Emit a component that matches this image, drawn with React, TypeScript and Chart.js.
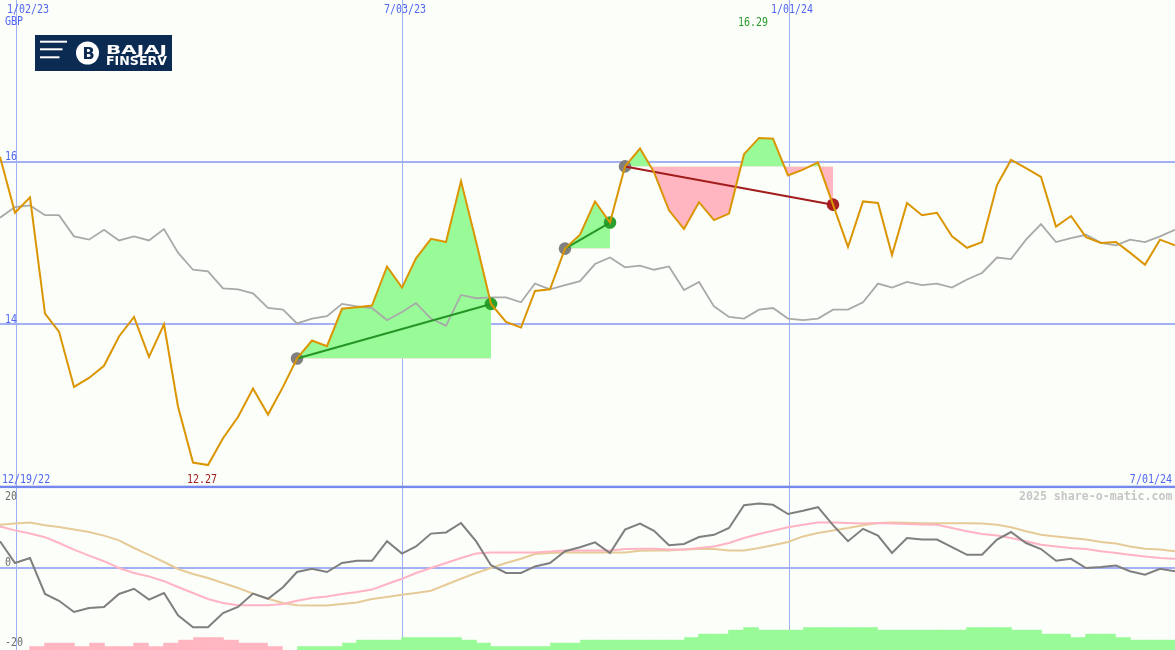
import React, { useEffect, useRef } from 'react';
import { Chart, registerables } from 'chart.js';

Chart.register(...registerables);

// ---- data (weekly, index based) ----
const closePrices = [
  16.06, 15.37, 15.56, 14.13, 13.91, 13.23, 13.34, 13.49, 13.85, 14.09,
  13.6, 14.0, 12.99, 12.3, 12.27, 12.6, 12.86, 13.21, 12.89, 13.23,
  13.58, 13.8, 13.73, 14.19, 14.21, 14.23, 14.71, 14.45, 14.81, 15.05,
  15.01, 15.76, 15.02, 14.25, 14.03, 13.96, 14.41, 14.43, 14.93, 15.1,
  15.51, 15.25, 15.94, 16.16, 15.87, 15.4, 15.17, 15.5, 15.28, 15.36,
  16.09, 16.29, 16.28, 15.83, 15.9, 15.99, 15.47, 14.95, 15.51, 15.49,
  14.85, 15.49, 15.34, 15.37, 15.08, 14.94, 15.01, 15.71, 16.02, 15.92,
  15.81, 15.2, 15.33, 15.07, 15.0, 15.01, 14.88, 14.73, 15.04, 14.97,
];

const priceAverage = [
  15.31, 15.44, 15.46, 15.34, 15.34, 15.08, 15.04, 15.16, 15.03, 15.08,
  15.03, 15.17, 14.88, 14.67, 14.65, 14.44, 14.43, 14.38, 14.2, 14.18,
  14.01, 14.07, 14.1, 14.25, 14.22, 14.2, 14.05, 14.15, 14.26, 14.07,
  13.98, 14.36, 14.32, 14.33, 14.33, 14.27, 14.5, 14.43, 14.48, 14.53,
  14.74, 14.82, 14.7, 14.72, 14.67, 14.71, 14.42, 14.52, 14.22, 14.09,
  14.07, 14.18, 14.2, 14.07, 14.05, 14.07, 14.18, 14.18, 14.27, 14.5,
  14.45, 14.52, 14.48, 14.5, 14.45, 14.55, 14.63, 14.82, 14.8, 15.04,
  15.23, 15.01, 15.06, 15.1, 15.0, 14.97, 15.04, 15.01, 15.08, 15.16,
];

const oscillator = [
  6.7, 1.25, 2.5, -6.5, -8.2, -11, -10, -9.75, -6.5, -5.2,
  -7.9, -6.25, -11.8, -14.8, -14.8, -11.25, -9.75, -6.4, -7.7, -4.8,
  -1, -0.2, -1, 1.25, 1.8, 1.8, 6.7, 3.6, 5.4, 8.6,
  8.9, 11.25, 6.7, 0.7, -1.25, -1.25, 0.4, 1.25, 4.2, 5.2,
  6.4, 3.75, 9.6, 11.1, 9.3, 5.7, 6, 7.75, 8.3, 10,
  15.7, 16.1, 15.8, 13.5, 14.3, 15.2, 10.7, 6.7, 9.8, 8.1,
  3.75, 7.5, 7.1, 7.1, 5.2, 3.3, 3.3, 7.1, 9, 6.25,
  4.75, 1.8, 2.3, 0, 0.25, 0.6, -0.8, -1.7, -0.2, -0.8,
];

const oscSignal = [
  10.4, 9.4, 8.6, 7.7, 6.25, 4.6, 3.1, 1.7, 0, -1.25,
  -2.1, -3.3, -4.75, -6.25, -7.75, -8.75, -9.3, -9.3, -9.3, -9,
  -8.2, -7.5, -7.1, -6.5, -6, -5.4, -4, -2.7, -1.25, 0,
  1.25, 2.5, 3.6, 3.9, 3.9, 3.9, 3.9, 4.1, 4.4, 4.4,
  4.4, 4.4, 4.75, 4.8, 4.8, 4.6, 4.6, 5, 5.4, 6.25,
  7.5, 8.5, 9.3, 10.2, 10.8, 11.4, 11.4, 11.25, 11.1, 11.25,
  11.1, 11, 10.9, 10.8, 10, 9.2, 8.5, 8.1, 7.5, 6.7,
  5.8, 5.4, 5, 4.75, 4.2, 3.75, 3.3, 2.9, 2.5, 2.3,
];

const oscSlow = [
  10.8, 11.1, 11.4, 10.7, 10.25, 9.6, 9, 8.1, 6.9, 5,
  3.3, 1.5, -0.25, -1.5, -2.5, -3.75, -5, -6.4, -7.7, -8.75,
  -9.3, -9.4, -9.4, -9, -8.6, -7.75, -7.25, -6.7, -6.25, -5.7,
  -4.2, -2.7, -1.25, 0, 1.25, 2.3, 3.5, 3.75, 3.9, 3.9,
  3.9, 3.9, 3.9, 4.3, 4.4, 4.4, 4.6, 4.75, 4.75, 4.4,
  4.4, 5, 5.7, 6.5, 7.9, 8.75, 9.4, 10, 10.7, 11.25,
  11.4, 11.3, 11.2, 11.2, 11.2, 11.2, 11.1, 10.8, 10.2, 9.2,
  8.3, 7.9, 7.5, 7.1, 6.5, 6.1, 5.4, 4.8, 4.6, 4.2,
];

// signed strength histogram (negative = pink, positive = green)
const strength = [
  0, 0, -0.75, -1.6, -1.6, -0.75, -1.6, -0.75, -0.75, -1.6,
  -0.75, -1.6, -2.35, -3, -3, -2.35, -1.6, -1.6, -0.75, 0,
  0.75, 0.75, 0.75, 1.6, 2.35, 2.35, 2.35, 3, 3, 3,
  3, 2.35, 1.6, 0.75, 0.75, 0.75, 0.75, 1.6, 1.6, 2.35,
  2.35, 2.35, 2.35, 2.35, 2.35, 2.35, 3, 3.85, 3.85, 4.85,
  5.5, 4.85, 4.85, 4.85, 5.5, 5.5, 5.5, 5.5, 5.5, 4.85,
  4.85, 4.85, 4.85, 4.85, 4.85, 5.5, 5.5, 5.5, 4.85, 4.85,
  3.85, 3.85, 3, 3.85, 3.85, 3, 2.35, 2.35, 2.35, 0,
];

const tradeEntryIdx = [20, 38, 42];
const tradeExitIdx = [33, 41, 56];

const dateTickPos = [1.07, 27, 53.05];
const dateTickLabels = ['1/02/23', '7/03/23', '1/01/24'];
const startLabel = '12/19/22';
const endLabel = '7/01/24';
const priceTicks = [14, 16];
const oscTicks = [20, 0, -20];
const currency = 'GBP';
const watermark = '2025 share-o-matic.com';

// ---- styles ----
const BG = '#fcfefa';
const GRID = '#a3b1f4';
const LABEL_BLUE = '#5066f0';
const MONO = '"DejaVu Sans Mono", monospace';
const GREEN_FILL = '#98fb98';
const PINK_FILL = '#ffb6c1';

const PRICE_MIN = 12;
const PRICE_MAX = 17.985;
const OSC_MIN = -20.5;
const OSC_MAX = 20.25;

function txt(ctx: CanvasRenderingContext2D, s: string, x: number, y: number, color: string,
  align: CanvasTextAlign = 'left', bold = false, size = 10, sy = 1.14) {
  ctx.save();
  ctx.font = `${bold ? 'bold ' : ''}${size}px ${MONO}`;
  ctx.fillStyle = color;
  ctx.textAlign = align;
  ctx.textBaseline = 'alphabetic';
  ctx.translate(x, y);
  ctx.scale(1, sy);
  ctx.fillText(s, 0, 0);
  ctx.restore();
}

const decorPlugin = {
  id: 'decor',
  beforeDraw(chart: any) {
    const { ctx, width, height } = chart;
    ctx.save();
    ctx.fillStyle = BG;
    ctx.fillRect(0, 0, width, height);
    ctx.restore();
  },
  afterDraw(chart: any) {
    const ctx: CanvasRenderingContext2D = chart.ctx;
    const xs = chart.scales.x;
    const ys = chart.scales.y;
    const y2 = chart.scales.y2;
    // separator between panels
    ctx.save();
    ctx.fillStyle = '#7488ee';
    ctx.fillRect(0, ys.bottom - 1.3, chart.width, 2.4);
    ctx.restore();

    // date labels at top
    dateTickPos.forEach((v, i) => {
      const px = xs.getPixelForValue(v);
      txt(ctx, dateTickLabels[i], Math.max(7, px - 18), 13, LABEL_BLUE);
    });
    txt(ctx, currency, 5, 25, LABEL_BLUE);
    // price labels
    priceTicks.forEach((v) => {
      txt(ctx, String(v), 5, ys.getPixelForValue(v) - 1.5, LABEL_BLUE);
    });
    // start / end labels
    txt(ctx, startLabel, 2, ys.bottom - 4, LABEL_BLUE);
    txt(ctx, endLabel, chart.width - 3, ys.bottom - 4, LABEL_BLUE, 'right');
    // min / max labels
    let maxI = 0, minI = 0;
    closePrices.forEach((v, i) => {
      if (v > closePrices[maxI]) maxI = i;
      if (v < closePrices[minI]) minI = i;
    });
    txt(ctx, closePrices[maxI].toFixed(2), xs.getPixelForValue(maxI) - 6, 26, '#2a9a2a', 'center');
    txt(ctx, closePrices[minI].toFixed(2), xs.getPixelForValue(minI) - 6, ys.bottom - 4, '#a52020', 'center');
    // oscillator labels
    oscTicks.forEach((v) => {
      let py = y2.getPixelForValue(v) - 2.5;
      if (py < y2.top + 13) py = y2.top + 13;
      txt(ctx, String(v), 5, py, '#6e6e6e');
    });
    txt(ctx, watermark, chart.width - 2.5, y2.top + 13, '#c6c6c6', 'right', true, 11.6, 1);

    // logo
    ctx.save();
    ctx.fillStyle = '#0b2b52';
    ctx.fillRect(35, 35, 137, 36);
    ctx.fillStyle = '#ffffff';
    ctx.fillRect(40, 40.7, 27, 2);
    ctx.fillRect(40, 48.3, 22.5, 2);
    ctx.fillRect(40, 56.3, 19.5, 2);
    ctx.beginPath();
    ctx.arc(87.5, 53, 11.5, 0, Math.PI * 2);
    ctx.fill();
    ctx.fillStyle = '#0b2b52';
    ctx.font = 'bold 16px "DejaVu Sans", sans-serif';
    ctx.textAlign = 'center';
    ctx.textBaseline = 'alphabetic';
    ctx.fillText('B', 88.5, 59);
    ctx.fillStyle = '#ffffff';
    ctx.font = 'bold 11.5px "DejaVu Sans", sans-serif';
    ctx.textAlign = 'left';
    const drawFit = (s: string, x: number, y: number, w: number) => {
      const m = ctx.measureText(s).width;
      ctx.save();
      ctx.translate(x, y);
      ctx.scale(w / m, 1);
      ctx.fillText(s, 0, 0);
      ctx.restore();
    };
    drawFit('BAJAJ', 106, 53.5, 61);
    drawFit('FINSERV', 106, 65.3, 61);
    ctx.restore();
  },
};

function buildConfig(): any {
  const pts = (arr: number[]) => arr.map((v, i) => ({ x: i, y: v }));
  const datasets: any[] = [];

  // orange price line (on top)
  datasets.push({
    type: 'line', data: pts(closePrices), yAxisID: 'y', borderColor: '#da9500',
    borderWidth: 2, pointRadius: 0, fill: false, tension: 0, order: 0,
  });

  // trade lines, markers and fills
  const markerData: any[] = [];
  const markerColors: string[] = [];
  tradeEntryIdx.forEach((e, k) => {
    const x = tradeExitIdx[k];
    const win = closePrices[x] >= closePrices[e];
    datasets.push({
      type: 'line',
      data: [{ x: e, y: closePrices[e] }, { x, y: closePrices[x] }],
      yAxisID: 'y', borderColor: win ? '#249624' : '#a31c1c', borderWidth: 2,
      pointRadius: 0, fill: false, order: 1,
    });
    const seg: any[] = [];
    for (let i = e; i <= x; i++) seg.push({ x: i, y: closePrices[i] });
    datasets.push({
      type: 'line', data: seg, yAxisID: 'y', borderColor: 'rgba(0,0,0,0)', borderWidth: 1,
      pointRadius: 0, tension: 0, order: 4,
      fill: { target: { value: closePrices[e] }, above: GREEN_FILL, below: PINK_FILL },
    });
    markerData.push({ x: e, y: closePrices[e] }, { x, y: closePrices[x] });
    markerColors.push('#808080', win ? '#2ca02c' : '#a82222');
  });
  datasets.push({
    type: 'line', data: markerData, yAxisID: 'y', showLine: false,
    pointRadius: 6.3, pointBackgroundColor: markerColors, pointBorderWidth: 0,
    pointBorderColor: 'rgba(0,0,0,0)', order: 2,
  });

  // grey average
  datasets.push({
    type: 'line', data: pts(priceAverage), yAxisID: 'y', borderColor: '#a9a9a9',
    borderWidth: 1.8, pointRadius: 0, fill: false, tension: 0, order: 3,
  });

  // oscillator panel
  datasets.push({
    type: 'line', data: pts(oscillator), yAxisID: 'y2', borderColor: '#7f7f7f',
    borderWidth: 2, pointRadius: 0, fill: false, tension: 0, order: 5,
  });
  datasets.push({
    type: 'line', data: pts(oscSignal), yAxisID: 'y2', borderColor: '#ffb3c3',
    borderWidth: 2, pointRadius: 0, fill: false, tension: 0, order: 6,
  });
  datasets.push({
    type: 'line', data: pts(oscSlow), yAxisID: 'y2', borderColor: '#e6cb98',
    borderWidth: 2, pointRadius: 0, fill: false, tension: 0, order: 7,
  });
  const barData: any[] = [];
  const barColors: string[] = [];
  strength.forEach((v, i) => {
    if (v === 0) return;
    barData.push({ x: i + 0.5, y: [OSC_MIN, OSC_MIN + Math.abs(v)] });
    barColors.push(v > 0 ? GREEN_FILL : PINK_FILL);
  });
  datasets.push({
    type: 'bar', data: barData, yAxisID: 'y2', backgroundColor: barColors,
    borderWidth: 0, barPercentage: 1, categoryPercentage: 1, grouped: false, order: 8,
    inflateAmount: 0.8,
  });

  return {
    type: 'line',
    data: { datasets },
    plugins: [decorPlugin],
    options: {
      animation: false,
      responsive: false,
      devicePixelRatio: 1,
      layout: { padding: 0, autoPadding: false },
      plugins: { legend: { display: false }, tooltip: { enabled: false } },
      events: [],
      scales: {
        x: {
          type: 'linear', min: 0, max: closePrices.length - 1, position: 'bottom',
          offset: false, alignToPixels: true,
          grid: { color: '#9fb0f4', lineWidth: 1, drawTicks: false, offset: false },
          border: { display: false },
          ticks: { display: false },
          afterBuildTicks: (s: any) => { s.ticks = dateTickPos.map((v) => ({ value: v })); },
        },
        y2: {
          type: 'linear', position: 'left', stack: 'panels', stackWeight: 163,
          min: OSC_MIN, max: OSC_MAX,
          grid: { color: GRID, lineWidth: 2, drawTicks: false },
          border: { display: false },
          ticks: { display: false },
          afterBuildTicks: (s: any) => { s.ticks = [{ value: 0 }]; },
        },
        y: {
          type: 'linear', position: 'left', stack: 'panels', stackWeight: 487,
          min: PRICE_MIN, max: PRICE_MAX,
          grid: { color: GRID, lineWidth: 2, drawTicks: false },
          border: { display: false },
          ticks: { display: false },
          afterBuildTicks: (s: any) => { s.ticks = priceTicks.map((v) => ({ value: v })); },
        },
      },
    },
  };
}

export default function App() {
  const ref = useRef<HTMLCanvasElement>(null);
  useEffect(() => {
    document.body.style.margin = '0';
    const chart = new Chart(ref.current as HTMLCanvasElement, buildConfig());
    return () => chart.destroy();
  }, []);
  return (
    <div style={{ width: 1175, height: 650 }}>
      <canvas ref={ref} width={1175} height={650} style={{ display: 'block' }} />
    </div>
  );
}
